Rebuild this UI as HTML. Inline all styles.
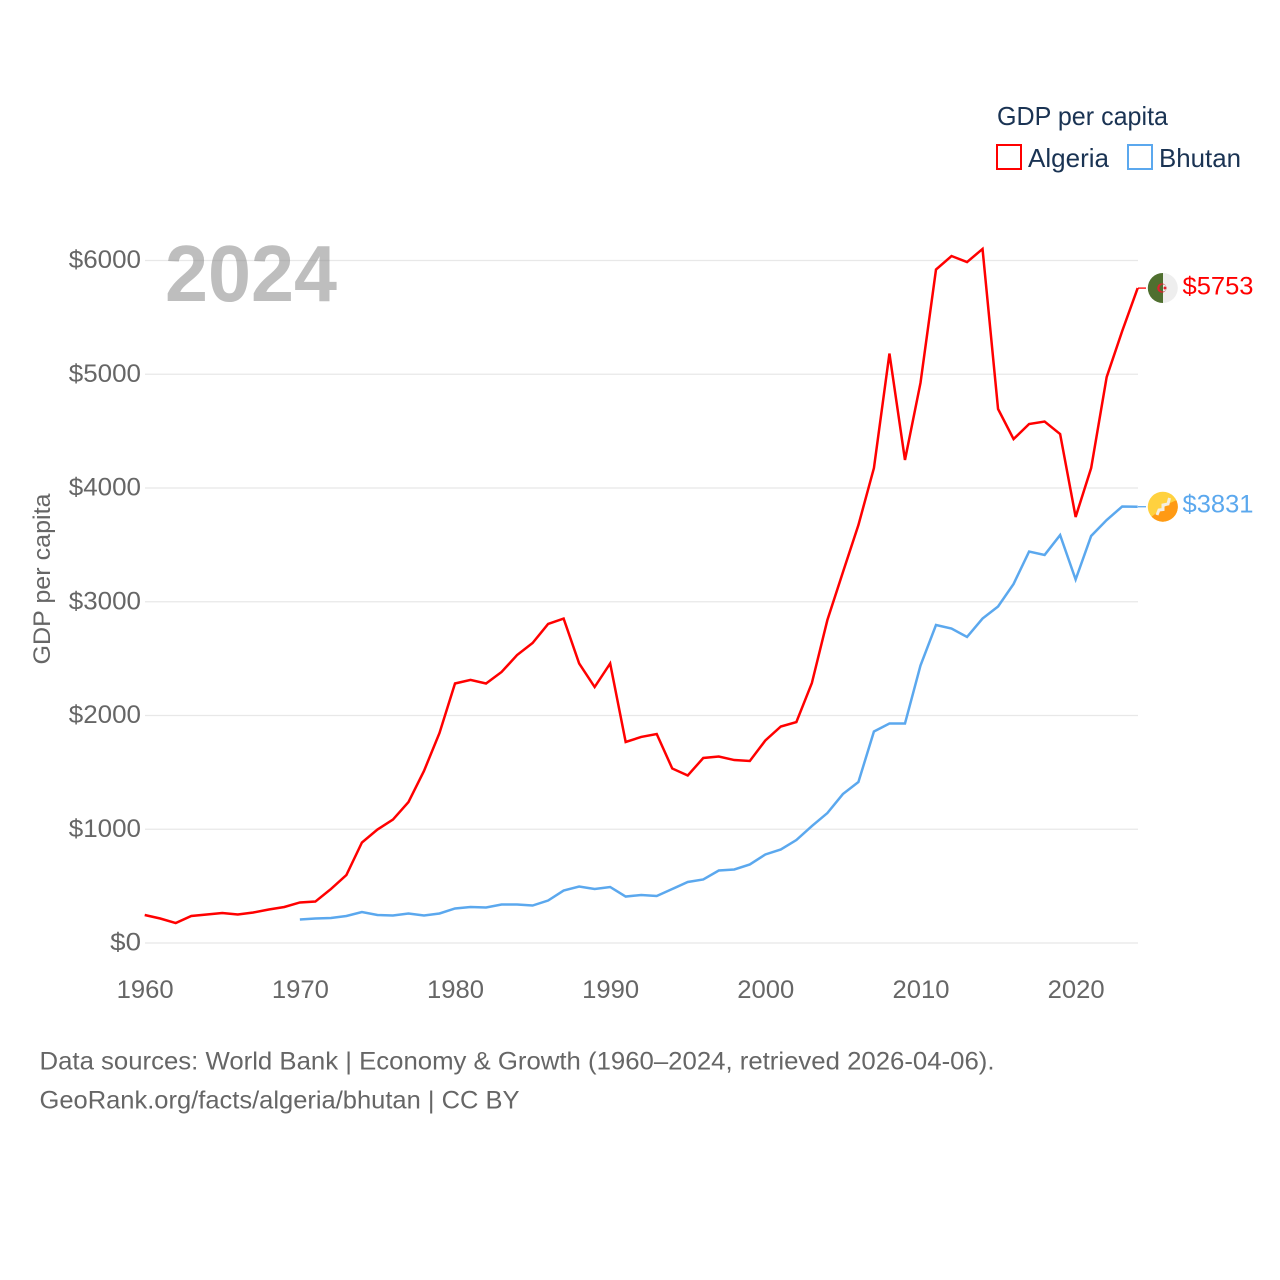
<!DOCTYPE html>
<html lang="en">
<head>
<meta charset="utf-8">
<title>GDP per capita: Algeria and Bhutan</title>
<style>
html,body{margin:0;padding:0;background:#fff;width:1280px;height:1280px;overflow:hidden}
svg{display:block}
text{font-family:"Liberation Sans",sans-serif}
</style>
</head>
<body>
<svg id="chart" xmlns="http://www.w3.org/2000/svg" width="1280" height="1280" viewBox="0 0 1280 1280">
  <g id="grid"></g>
  <g id="yticks"></g>
  <g id="xticks"></g>
  <text transform="translate(50,579) rotate(-90)" text-anchor="middle" font-size="24" fill="#666" textLength="171" lengthAdjust="spacingAndGlyphs">GDP per capita</text>
  <text x="165" y="301" font-size="80" font-weight="700" fill="#888" fill-opacity="0.55" textLength="172" lengthAdjust="spacingAndGlyphs">2024</text>
  <g id="series"></g>

  <g>
    <text x="997" y="125" font-size="26" fill="#1a3353" textLength="171" lengthAdjust="spacingAndGlyphs">GDP per capita</text>
    <g>
      <rect x="997" y="145" width="24" height="24" fill="none" stroke="#ff0000" stroke-width="2"/>
      <text x="1028" y="167" font-size="26" fill="#1a3353" textLength="81" lengthAdjust="spacingAndGlyphs">Algeria</text>
    </g>
    <g>
      <rect x="1128" y="145" width="24" height="24" fill="none" stroke="#5ba8ee" stroke-width="2"/>
      <text x="1159" y="167" font-size="26" fill="#1a3353" textLength="82" lengthAdjust="spacingAndGlyphs">Bhutan</text>
    </g>
  </g>

  <defs>
    <clipPath id="clip-dz"><circle cx="1162.8" cy="288" r="15"/></clipPath>
    <clipPath id="clip-bt"><circle cx="1162.8" cy="506.7" r="15"/></clipPath>
  </defs>
  <g id="end-connectors"></g>
  <g clip-path="url(#clip-dz)">
    <rect x="1147" y="272" width="16" height="32" fill="#4f6f2f"/>
    <rect x="1163" y="272" width="16" height="32" fill="#eeeeee"/>
    <circle cx="1161.8" cy="288" r="4.6" fill="#e0202f"/>
    <circle cx="1163" cy="288" r="3.6" fill="#4f6f2f"/>
    <path d="M1163 284.4 A3.6 3.6 0 0 1 1163 291.6 Z" fill="#eeeeee"/>
    <circle cx="1165" cy="288" r="1.5" fill="#e0202f"/>
  </g>
  <g clip-path="url(#clip-bt)">
    <rect x="1147" y="491" width="32" height="32" fill="#ffd13f"/>
    <path d="M1147 523 L1179 523 L1179 499 L1170 503 L1147 520 Z" fill="#ff9a14"/>
    <path d="M1157 515 L1159 510 L1163 509.5 L1163 505 L1168 504 L1169.5 498" fill="none" stroke="#f4eee2" stroke-width="3"/>
  </g>
  <g id="endlabels"></g>

  <g>
    <text x="39.5" y="1069.5" font-size="25" fill="#666" textLength="955" lengthAdjust="spacingAndGlyphs">Data sources: World Bank | Economy &amp; Growth (1960–2024, retrieved 2026-04-06).</text>
    <text x="39.5" y="1108.5" font-size="25" fill="#666" textLength="480" lengthAdjust="spacingAndGlyphs">GeoRank.org/facts/algeria/bhutan | CC BY</text>
  </g>
</svg>
<script>
const algeriaStartYear = 1960;
const algeriaValues = [242,211,171,233,246,259,246,264,290,312,352,360,470,593,879,993,1081,1235,1508,1842,2277,2308,2277,2378,2527,2633,2800,2848,2453,2246,2453,1763,1807,1833,1530,1468,1622,1635,1604,1596,1776,1899,1938,2281,2835,3255,3670,4171,5178,4242,4919,5916,6035,5982,6097,4690,4426,4558,4580,4470,3741,4171,4971,5375,5753];
const bhutanStartYear = 1970;
const bhutanValues = [202,211,215,233,268,242,237,255,237,255,299,312,308,334,334,325,369,457,492,470,488,404,418,409,470,532,554,633,642,686,774,818,901,1024,1138,1305,1411,1855,1925,1925,2435,2791,2760,2686,2848,2954,3152,3437,3407,3582,3191,3574,3714,3833,3831];
const yTickValues = [0,1000,2000,3000,4000,5000,6000];
const xTickYears = [1960,1970,1980,1990,2000,2010,2020];

const NS = 'http://www.w3.org/2000/svg';
const xScale = function (year) { return 144.7 + (year - 1960) * (993 / 64); };
const yScale = function (value) { return 942.5 - value * 0.11375; };

function make(tag, parent, attrs, text) {
  const el = document.createElementNS(NS, tag);
  Object.keys(attrs).forEach(function (k) { el.setAttribute(k, attrs[k]); });
  if (text !== undefined) el.textContent = text;
  parent.appendChild(el);
  return el;
}

const gridG = document.getElementById('grid');
const yG = document.getElementById('yticks');
yTickValues.forEach(function (v) {
  const line = make('line', gridG, {x1: 145, x2: 1138, y1: yScale(v) + 0.5, y2: yScale(v) + 0.5, stroke: '#e8e8e8', 'stroke-width': 1.3});
  
  
  const label = make('text', yG, {x: 141, y: yScale(v) + 8, 'text-anchor': 'end', 'font-size': 25, fill: '#666', textLength: String(v).length * 13.8 + 17, lengthAdjust: 'spacingAndGlyphs'}, '$' + v);
  
  
});

const xG = document.getElementById('xticks');
xTickYears.forEach(function (y) {
  const label = make('text', xG, {x: xScale(y) + 0.5, y: 998, 'text-anchor': 'middle', 'font-size': 25, fill: '#666', textLength: 57, lengthAdjust: 'spacingAndGlyphs'}, String(y));
  
  
});

function pathFor(values, startYear) {
  return values.map(function (v, i) {
    return (i ? 'L' : 'M') + xScale(startYear + i).toFixed(2) + ' ' + yScale(v).toFixed(2);
  }).join(' ');
}

const seriesG = document.getElementById('series');
const endG = document.getElementById('endlabels');
const connG = document.getElementById('end-connectors');

const bhutanLine = make('path', seriesG, {d: pathFor(bhutanValues, bhutanStartYear), fill: 'none', stroke: '#5ba8ee', 'stroke-width': 2.5, 'stroke-linejoin': 'miter'});



const algeriaLine = make('path', seriesG, {d: pathFor(algeriaValues, algeriaStartYear), fill: 'none', stroke: '#ff0000', 'stroke-width': 2.5, 'stroke-linejoin': 'miter'});



const algeriaLast = algeriaValues[algeriaValues.length - 1];
const bhutanLast = bhutanValues[bhutanValues.length - 1];

const algeriaConn = make('line', connG, {x1: 1138, x2: 1146, y1: yScale(algeriaLast), y2: yScale(algeriaLast), stroke: '#ff0000', 'stroke-width': 1.3});



const bhutanConn = make('line', connG, {x1: 1138, x2: 1146, y1: yScale(bhutanLast), y2: yScale(bhutanLast), stroke: '#5ba8ee', 'stroke-width': 1.3});



const algeriaLabel = make('text', endG, {x: 1182.5, y: yScale(algeriaLast) + 6.5, 'font-size': 25, fill: '#ff0000', textLength: 71, lengthAdjust: 'spacingAndGlyphs'}, '$' + algeriaLast);



const bhutanLabel = make('text', endG, {x: 1182.5, y: yScale(bhutanLast) + 6, 'font-size': 25, fill: '#5ba8ee', textLength: 71, lengthAdjust: 'spacingAndGlyphs'}, '$' + bhutanLast);


</script>
</body>
</html>
